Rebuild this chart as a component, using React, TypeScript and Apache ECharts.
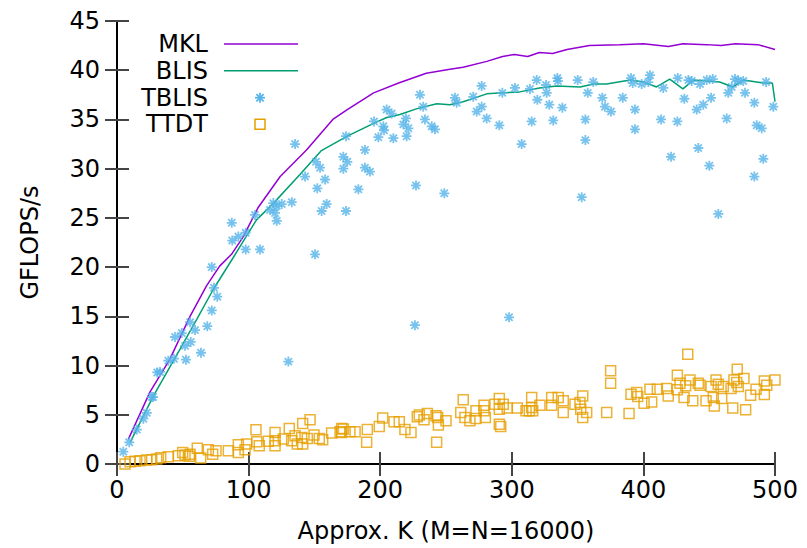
import React, { useEffect, useRef } from "react";
import * as echarts from "echarts";

const xTickLabels = ["0", "100", "200", "300", "400", "500"];
const yTickLabels = ["0", "5", "10", "15", "20", "25", "30", "35", "40", "45"];

const mklPoints: [number, number][] = [
  [8.6, 2.5], [25, 7.3], [40, 10.6], [55.5, 15.0], [68, 18.1], [78, 20.1], [87, 21.3], [96, 23.1],
  [107, 26.0], [124, 29.2], [144, 31.9], [164, 35.0], [175, 36.0], [195, 37.7], [214, 38.7],
  [235, 39.7], [253, 40.1], [263, 40.3], [281, 40.9], [293, 41.4], [302, 41.6], [312, 41.4],
  [321, 41.8], [331, 41.7], [342, 42.1], [359, 42.5], [382, 42.6], [400, 42.7], [419, 42.4],
  [430, 42.7], [448, 42.6], [459, 42.5], [470, 42.7], [487, 42.6], [500, 42.1],
];

const blisPoints: [number, number][] = [
  [10, 2.2], [27.6, 6.9], [48, 11.7], [60.6, 14.7], [73, 17.7], [88, 20.9], [106, 24.8],
  [119, 26.5], [139, 29.4], [155, 31.8], [175, 33.3], [195, 34.6], [205, 35.2], [215, 35.5],
  [228, 36.1], [243, 36.6], [253, 36.5], [263, 36.8], [281, 37.6], [293, 37.7], [306, 37.8],
  [321, 38.2], [334, 38.4], [352, 38.3], [362, 38.6], [372, 38.6], [390, 39.0], [400, 38.8],
  [410, 38.3], [420, 39.1], [430, 38.1], [438, 39.0], [458, 38.8], [468, 38.3], [476, 39.0],
  [491, 38.7], [498, 38.7], [500, 36.8],
];

const tblisPoints: [number, number][] = [
  [4.8, 1.25], [9.3, 2.2], [15.0, 3.5], [20.0, 4.6], [22.6, 5.2], [26.4, 6.8], [27.4, 6.8],
  [30.6, 9.3], [32.7, 9.35], [39.0, 10.5], [43.3, 10.7], [44.1, 12.9], [49.2, 13.3], [52.4, 10.6],
  [51.7, 12.0], [56.0, 12.4], [55.5, 14.4], [59.3, 13.6], [63.8, 11.3], [68.6, 14.0], [72.0, 15.6],
  [76.2, 17.0], [73.7, 17.9], [72.0, 20.0], [87.2, 24.5], [87.6, 22.7], [92.2, 23.1], [97.8, 23.5],
  [97.8, 21.8], [108.7, 21.8], [104.9, 25.3], [116.3, 25.8], [118.8, 26.5], [121.4, 26.2],
  [120.1, 25.5], [121.4, 24.7], [125.2, 26.4], [132.8, 26.6], [130.2, 10.4], [150.5, 21.3],
  [155.5, 25.7], [159.3, 26.4], [152.2, 28.0], [158.1, 28.9], [174.0, 25.7], [135.3, 32.5],
  [151.2, 30.7], [154.3, 30.1], [142.9, 29.2], [172.0, 31.2], [175.0, 30.7], [172.0, 30.0],
  [174.0, 33.3], [188.4, 31.9], [188.4, 30.1], [192.2, 29.7], [183.4, 27.9], [195.3, 34.8],
  [202.4, 34.3], [202.9, 33.9], [198.6, 33.2], [210.0, 33.1], [204.9, 36.0], [208.7, 35.6],
  [219.6, 35.1], [217.6, 34.5], [221.4, 34.1], [220.1, 33.3], [227.2, 28.3], [226.4, 14.1],
  [230.2, 37.5], [232.7, 36.3], [234.0, 35.0], [239.1, 34.3], [241.6, 34.0], [248.7, 27.5],
  [256.8, 37.2], [258.1, 36.7], [270.7, 37.3], [273.3, 35.8], [277.1, 38.4], [277.1, 36.3],
  [280.9, 35.1], [290.5, 34.4], [292.8, 37.7], [302.4, 38.2], [307.5, 32.5], [297.9, 14.9],
  [313.8, 38.1], [315.1, 34.8], [318.9, 39.0], [319.4, 37.0], [326.0, 38.5], [326.5, 37.7],
  [328.5, 36.5], [331.5, 34.9], [334.6, 39.2], [335.1, 38.9], [338.4, 36.2], [350.1, 39.0],
  [353.1, 27.1], [355.9, 35.0], [355.9, 32.9], [357.7, 37.7], [361.9, 38.8], [368.8, 37.2],
  [370.8, 36.3], [375.4, 35.8], [384.3, 37.2], [390.6, 39.2], [391.9, 38.7], [393.6, 36.0],
  [393.6, 34.0], [398.7, 38.6], [405.0, 39.5], [403.7, 38.8], [413.4, 35.0], [415.1, 38.2],
  [421.0, 31.2], [425.8, 34.8], [426.1, 39.2], [431.1, 37.1], [434.2, 39.0], [436.7, 38.9],
  [440.5, 36.0], [441.7, 32.1], [443.0, 38.6], [445.5, 36.5], [448.1, 39.0], [450.1, 30.3],
  [451.4, 37.2], [452.7, 39.1], [456.9, 25.4], [463.3, 35.1], [464.5, 37.7], [467.1, 38.3],
  [469.6, 39.1], [472.1, 38.9], [475.9, 38.9], [477.2, 37.7], [484.3, 29.2], [484.3, 36.7],
  [486.1, 34.4], [489.9, 34.1], [491.1, 31.0], [493.2, 38.8], [498.7, 36.3],
];

const ttdtPoints: [number, number][] = [
  [6.1, 0.0], [9.9, 0.23], [13.7, 0.27], [17.5, 0.34], [22.6, 0.4], [26.4, 0.44], [30.2, 0.5],
  [33.2, 0.64], [39.0, 0.74], [46.6, 0.84], [49.9, 1.18], [51.7, 0.91], [55.5, 1.0], [55.0, 0.78],
  [61.0, 1.59], [63.6, 0.61], [69.4, 1.45], [72.7, 1.0], [75.2, 1.35], [84.6, 1.35], [92.2, 1.18],
  [92.2, 1.96], [97.3, 1.45], [98.5, 2.03], [105.6, 3.48], [106.2, 2.26], [108.1, 1.86],
  [115.0, 2.3], [120.1, 3.2], [120.1, 2.36], [120.1, 1.86], [126.4, 2.53], [130.9, 3.6],
  [132.7, 2.36], [135.3, 2.87], [137.0, 2.03], [141.1, 2.03], [141.1, 4.12], [146.7, 4.5],
  [140.3, 2.7], [144.6, 2.6], [149.7, 2.94], [153.7, 2.6], [156.3, 2.46], [163.1, 3.14],
  [169.5, 3.27], [172.0, 3.55], [177.0, 3.27], [180.9, 3.27], [170.7, 3.6], [170.7, 3.2],
  [190.2, 3.5], [189.7, 2.2], [199.3, 3.8], [201.9, 4.66], [210.5, 4.3], [214.5, 4.3],
  [218.8, 3.5], [223.4, 3.2], [228.2, 4.8], [229.7, 4.97], [233.3, 4.5], [235.8, 5.14],
  [242.4, 4.9], [243.7, 4.73], [242.9, 2.2], [244.2, 3.95], [250.0, 4.4], [261.2, 5.24],
  [263.1, 6.52], [264.4, 4.73], [268.2, 4.4], [272.8, 5.4], [272.8, 4.63], [278.9, 5.98],
  [278.9, 5.4], [279.9, 4.73], [287.2, 6.08], [290.5, 6.66], [290.5, 5.57], [290.5, 4.05],
  [291.6, 3.82], [293.5, 6.08], [296.5, 5.7], [304.2, 5.7], [310.8, 5.4], [313.3, 5.4],
  [315.1, 6.76], [315.1, 5.74], [315.9, 5.4], [321.4, 5.98], [330.3, 6.76], [330.3, 5.98],
  [335.3, 6.76], [339.1, 6.42], [339.1, 5.24], [348.0, 6.08], [351.8, 6.25], [353.9, 6.92],
  [352.4, 5.57], [353.9, 4.73], [356.9, 5.24], [372.1, 5.24], [375.1, 9.46], [375.1, 8.2],
  [389.1, 5.14], [390.6, 7.09], [394.9, 7.27], [395.7, 6.86], [400.5, 6.18], [405.0, 7.6],
  [406.3, 6.31], [410.6, 7.6], [417.7, 7.67], [418.9, 6.92], [425.8, 9.02], [425.8, 7.53],
  [427.8, 8.2], [430.9, 6.76], [433.7, 11.15], [432.1, 7.94], [435.4, 8.54], [437.5, 6.42],
  [441.7, 8.2], [443.0, 8.0], [447.6, 6.42], [451.4, 7.87], [453.1, 6.76], [453.9, 5.9],
  [455.2, 8.54], [456.9, 8.1], [459.5, 6.66], [460.7, 7.87], [466.6, 7.67], [467.9, 5.7],
  [468.8, 8.54], [471.3, 9.63], [470.9, 8.28], [472.1, 7.87], [476.4, 8.69], [477.7, 5.5],
  [481.5, 6.99], [485.6, 7.6], [491.9, 8.44], [491.9, 7.06], [493.7, 8.0], [500.0, 8.54],
];

const seriesNames = ["MKL", "BLIS", "TBLIS", "TTDT"];
const colors = ["#9400d3", "#009e73", "#56b4e9", "#e69f00"];

const FONT = "DejaVu Sans";
const FS = 24;
const STAR = "path://M0,-5L0,5M-5,0L5,0M-3.6,-3.6L3.6,3.6M-3.6,3.6L3.6,-3.6";

export default function App() {
  const ref = useRef<HTMLDivElement>(null);
  useEffect(() => {
    if (!ref.current) return;
    const chart = echarts.init(ref.current, null, { renderer: "svg" });
    const axisLine = { show: true, lineStyle: { color: "#000", width: 2 } };
    const tick = { show: true, inside: true, length: 12, lineStyle: { color: "#444", width: 2 } };
    const legendRows = [44, 70.7, 97.7, 124.3];
    const lx = 260;
    const graphics: any[] = [];
    seriesNames.forEach((n, i) => {
      graphics.push({
        type: "text",
        x: 208,
        y: legendRows[i],
        style: { text: n, font: `${FS}px "${FONT}"`, fill: "#000", align: "right", verticalAlign: "middle" },
      });
    });
    graphics.push({ type: "line", shape: { x1: 224, y1: legendRows[0], x2: 298, y2: legendRows[0] }, style: { stroke: colors[0], lineWidth: 1.5 } });
    graphics.push({ type: "line", shape: { x1: 224, y1: legendRows[1], x2: 298, y2: legendRows[1] }, style: { stroke: colors[1], lineWidth: 1.5 } });
    const sy = legendRows[2];
    [[0, -5, 0, 5], [-5, 0, 5, 0], [-3.6, -3.6, 3.6, 3.6], [-3.6, 3.6, 3.6, -3.6]].forEach((s) => {
      graphics.push({ type: "line", shape: { x1: lx + s[0], y1: sy + s[1], x2: lx + s[2], y2: sy + s[3] }, style: { stroke: colors[2], lineWidth: 1.8 } });
    });
    graphics.push({ type: "rect", shape: { x: lx - 5, y: legendRows[3] - 5, width: 10, height: 10 }, style: { stroke: colors[3], fill: "none", lineWidth: 1.5 } });

    chart.setOption({
      animation: false,
      grid: { left: 117, right: 32, top: 21, bottom: 83 },
      xAxis: [
        {
          type: "value", min: 0, max: 500, interval: 100, position: "bottom",
          axisLine, axisTick: tick, splitLine: { show: false },
          axisLabel: { color: "#000", fontSize: FS, fontFamily: FONT, margin: 14, formatter: (v: number) => xTickLabels[Math.round(v / 100)] },
          name: "Approx. K (M=N=16000)", nameLocation: "middle", nameGap: 55,
          nameTextStyle: { color: "#000", fontSize: FS, fontFamily: FONT },
        },
        {
          type: "value", min: 0, max: 500, interval: 100, position: "top",
          axisLine, axisTick: tick, axisLabel: { show: false }, splitLine: { show: false },
        },
      ],
      yAxis: [
        {
          type: "value", min: 0, max: 45, interval: 5, position: "left",
          axisLine, axisTick: tick, splitLine: { show: false },
          axisLabel: { color: "#000", fontSize: FS, fontFamily: FONT, margin: 17, formatter: (v: number) => yTickLabels[Math.round(v / 5)] },
          name: "GFLOPS/s", nameLocation: "middle", nameGap: 75,
          nameTextStyle: { color: "#000", fontSize: FS, fontFamily: FONT },
        },
        {
          type: "value", min: 0, max: 45, interval: 5, position: "right",
          axisLine, axisTick: tick, axisLabel: { show: false }, splitLine: { show: false },
        },
      ],
      graphic: graphics,
      series: [
        {
          name: seriesNames[0], type: "line", data: mklPoints, showSymbol: false, symbol: "none",
          lineStyle: { color: colors[0], width: 1.5 }, itemStyle: { color: colors[0] }, z: 2,
        },
        {
          name: seriesNames[1], type: "line", data: blisPoints, showSymbol: false, symbol: "none",
          lineStyle: { color: colors[1], width: 1.5 }, itemStyle: { color: colors[1] }, z: 3,
        },
        {
          name: seriesNames[2], type: "scatter", data: tblisPoints, symbol: STAR, symbolSize: 10,
          itemStyle: { color: colors[2], borderColor: colors[2], borderWidth: 1.8 }, z: 4,
        },
        {
          name: seriesNames[3], type: "scatter", data: ttdtPoints, symbol: "rect", symbolSize: 10,
          itemStyle: { color: "rgba(0,0,0,0)", borderColor: colors[3], borderWidth: 1.5 }, z: 5,
        },
      ],
    });
    return () => chart.dispose();
  }, []);
  return <div ref={ref} style={{ position: "fixed", left: 0, top: 0, width: 807, height: 548, background: "#fff" }} />;
}
